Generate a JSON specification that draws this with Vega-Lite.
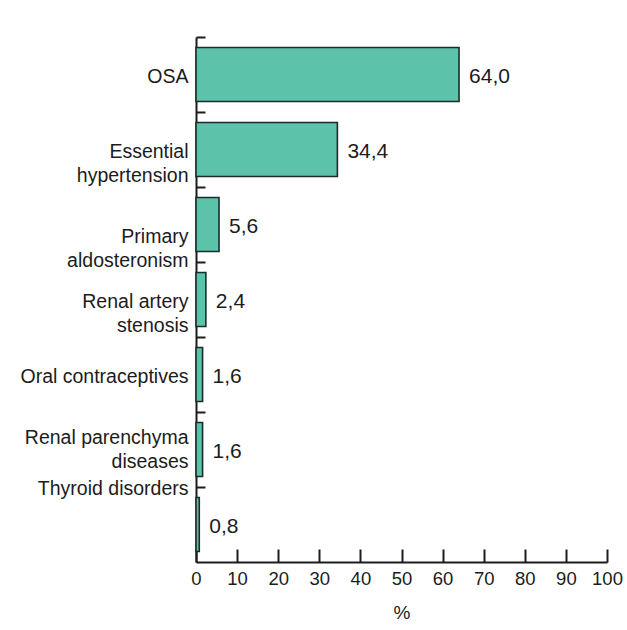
{
  "$schema": "https://vega.github.io/schema/vega-lite/v6.json",
  "autosize": {"type": "none"},
  "padding": {"left": 196, "top": 37, "right": 20, "bottom": 68},
  "width": 411,
  "height": 525,
  "background": "white",
  "config": {
    "locale": {"number": {"decimal": ",", "thousands": ".", "grouping": [3], "currency": ["", ""]}},
    "view": {"stroke": null},
    "font": "Liberation Sans",
    "axis": {"domainColor": "#1c1c1c", "tickColor": "#1c1c1c", "domainWidth": 2, "tickWidth": 2, "labelColor": "#1c1c1c", "titleColor": "#1c1c1c", "labelFont": "Liberation Sans", "titleFont": "Liberation Sans", "grid": false}
  },
  "data": {
    "values": [
      {"cause": "OSA", "pct": 64.0},
      {"cause": "Essential hypertension", "pct": 34.4},
      {"cause": "Primary aldosteronism", "pct": 5.6},
      {"cause": "Renal artery stenosis", "pct": 2.4},
      {"cause": "Oral contraceptives", "pct": 1.6},
      {"cause": "Renal parenchyma diseases", "pct": 1.6},
      {"cause": "Thyroid disorders", "pct": 0.8}
    ]
  },
  "encoding": {
    "y": {
      "field": "cause", "type": "nominal", "sort": null,
      "scale": {"paddingInner": 0.28, "paddingOuter": 0.14},
      "axis": {
        "title": null, "bandPosition": -0.185, "tickSize": -9, "labelPadding": 17,
        "labelFontSize": 19.5, "labelLineHeight": 24,
        "labelOffset": {"expr": "datum.label == 'Primary aldosteronism' ? 12 : datum.label == 'Renal parenchyma diseases' ? -12 : datum.label == 'Thyroid disorders' ? -36 : 2"},
        "labelExpr": "indexof(datum.label, ' ') > 0 && datum.label != 'Oral contraceptives' && datum.label != 'Thyroid disorders' ? [slice(datum.label, 0, lastindexof(datum.label, ' ')), slice(datum.label, lastindexof(datum.label, ' ') + 1)] : datum.label"
      }
    },
    "x": {
      "field": "pct", "type": "quantitative",
      "scale": {"domain": [0, 100], "nice": false},
      "axis": {"title": "%", "values": [0,10,20,30,40,50,60,70,80,90,100], "labelOverlap": false, "labelFlush": false, "tickSize": -13, "labelPadding": 20, "labelFontSize": 18.5, "titleFontSize": 19, "titleFontWeight": "normal", "titlePadding": 16, "format": "d"}
    }
  },
  "layer": [
    {"mark": {"type": "bar", "fill": "#5cc2aa", "stroke": "#1e2b2a", "strokeWidth": 1.6}},
    {"mark": {"type": "text", "align": "left", "baseline": "middle", "dx": 10, "dy": 2, "fontSize": 21, "color": "#1c1c1c"},
     "encoding": {"text": {"field": "pct", "type": "quantitative", "format": ".1f"}}}
  ]
}
